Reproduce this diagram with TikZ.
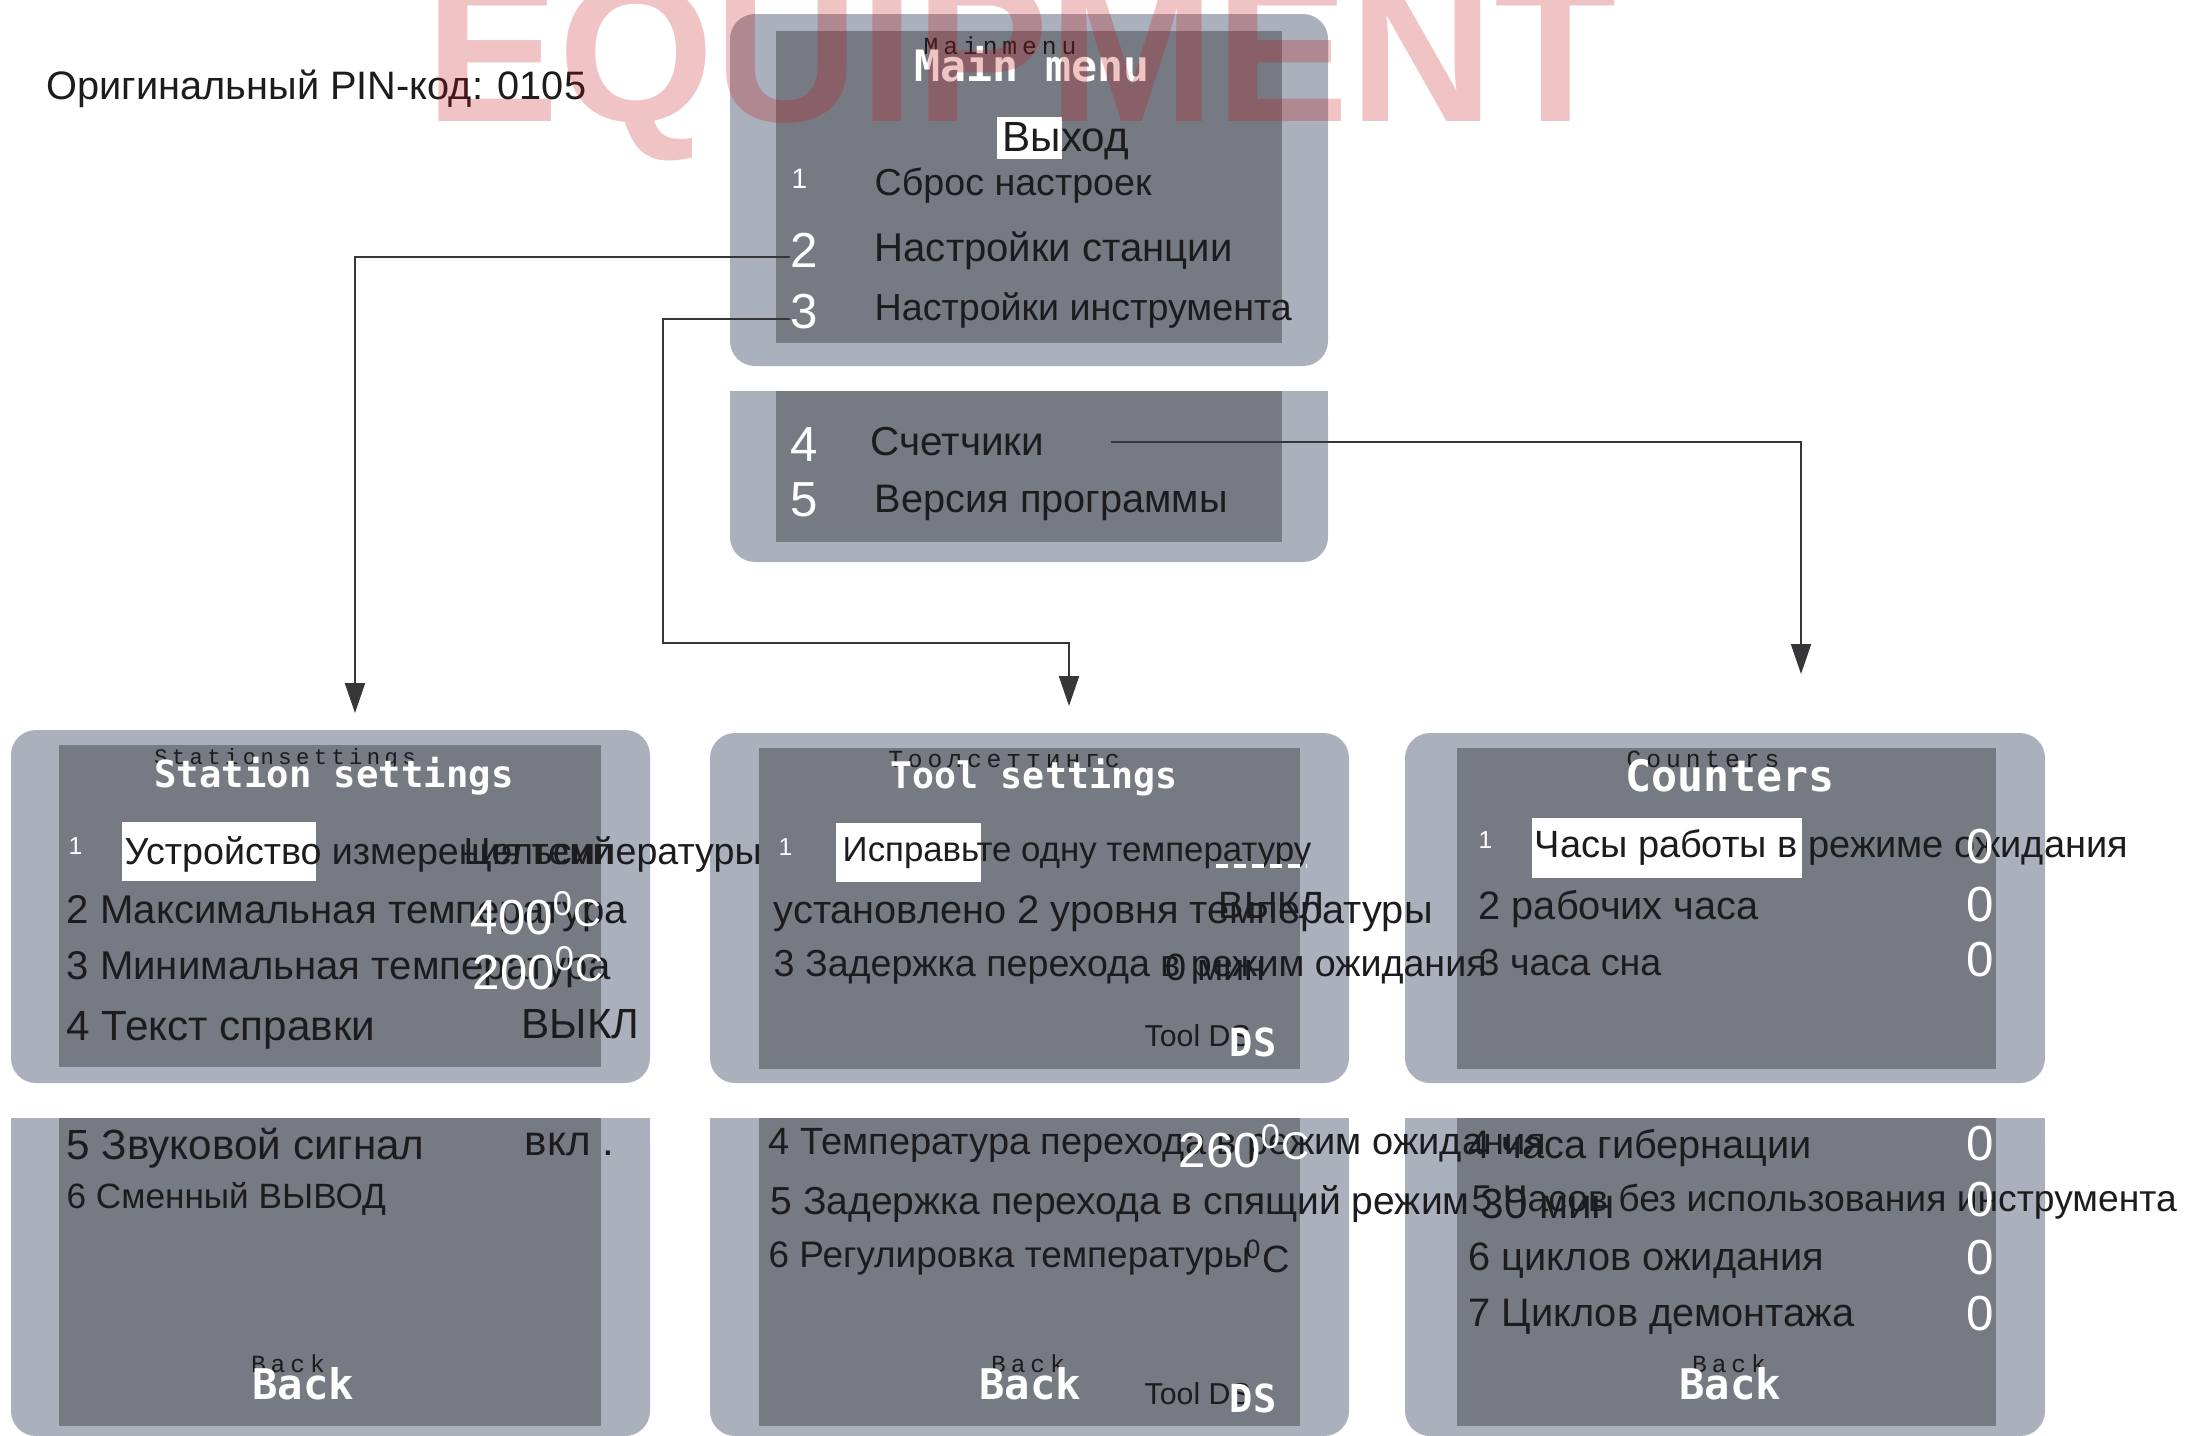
\documentclass[tikz,border=0pt]{standalone}
\usepackage{fontspec}
\setmainfont{Liberation Sans}
\newfontfamily\pixfont{DejaVu Sans Mono}
\newfontfamily\tagfont[LetterSpace=20]{Liberation Mono}
\usetikzlibrary{arrows.meta,positioning}

\definecolor{frame}{RGB}{170,176,188}
\definecolor{screen}{RGB}{118,122,131}
\definecolor{ink}{RGB}{28,28,30}
\definecolor{wire}{RGB}{55,55,58}
\definecolor{stamp}{RGB}{195,20,20}

\newcommand{\degC}{\textsuperscript{0}\raisebox{0.3ex}{\fontsize{11}{11}\selectfont C}}

\begin{document}
\begin{tikzpicture}[x=0.01cm, y=-0.01cm,
    frame/.style = {fill=frame, rounded corners=0.25cm},
    screen/.style = {fill=screen},
    hl/.style = {fill=white},
    txt/.style = {font=\fontsize{#1}{#1}\selectfont, text=ink, anchor=west, inner sep=0, yshift=-0.04cm},
    txt/.default = 12,
    num/.style = {font=\fontsize{#1}{#1}\selectfont, text=white, anchor=west, inner sep=0},
    num/.default = 14,
    pix/.style = {font=\pixfont\bfseries\fontsize{#1}{#1}\selectfont, text=white, inner sep=0},
    tag/.style = {font=\tagfont\fontsize{#1}{#1}\selectfont, text=ink, inner sep=0},
    tag/.default = 7,
    link/.style = {draw=wire, line width=0.6pt, -{Triangle[length=0.3cm, width=0.2cm]}}]
  \useasboundingbox (0,0) rectangle (2192,1435);

  % panels
  \fill[frame] (730,14) rectangle (1328,366);
  \fill[screen] (776,31) rectangle (1282,343);
  \fill[frame] (730,391) rectangle (1328,562);
  \fill[frame, sharp corners] (730,391) rectangle (1328,450);
  \fill[screen] (776,391) rectangle (1282,542);

  \fill[frame] (11,730) rectangle (650,1083);
  \fill[screen] (59,745) rectangle (601,1067);
  \fill[frame] (11,1118) rectangle (650,1436);
  \fill[frame, sharp corners] (11,1118) rectangle (650,1200);
  \fill[screen] (59,1118) rectangle (601,1426);

  \fill[frame] (710,733) rectangle (1349,1083);
  \fill[screen] (759,748) rectangle (1300,1069);
  \fill[frame] (710,1118) rectangle (1349,1436);
  \fill[frame, sharp corners] (710,1118) rectangle (1349,1200);
  \fill[screen] (759,1118) rectangle (1300,1426);

  \fill[frame] (1405,733) rectangle (2045,1083);
  \fill[screen] (1457,748) rectangle (1996,1069);
  \fill[frame] (1405,1118) rectangle (2045,1436);
  \fill[frame, sharp corners] (1405,1118) rectangle (2045,1200);
  \fill[screen] (1457,1118) rectangle (1996,1426);

  % highlights
  \fill[hl] (997,117) rectangle (1062,159);
  \fill[hl] (122,822) rectangle (316,881);
  \fill[hl] (836,823) rectangle (981,882);
  \fill[hl] (1532,818) rectangle (1802,878);

  \node[txt=11.3] (pin) at (46,85) {Оригинальный PIN-код: 0105};

  % main menu
  \node[tag] (mmtag) at (1000,46) {Mainmenu};
  \node[pix=12.3] (mmtitle) at (1032,64) {Main menu};
  \node[txt] (exit) at (1002,137) {Выход};
  \node[num=8] (n1) at (791,179) {1};
  \node[txt=10.7] (reset) at (874,182) {Сброс настроек};
  \node[num] (n2) at (790,250) {2};
  \node[txt=11.4] (station) at (874,247) {Настройки станции};
  \node[num] (n3) at (790,312) {3};
  \node[txt=10.7] (tools) at (874,306) {Настройки инструмента};
  \node[num] (n4) at (790,445) {4};
  \node[txt=11.5] (counters) at (870,438) {Счетчики};
  \node[num] (n5) at (790,500) {5};
  \node[txt=11.3] (version) at (874,499) {Версия программы};

  % station settings
  \node[tag=6.3] (sttag) at (285,759) {Stationsettings};
  \node[pix=10.6] (sttitle) at (334,776) {Station settings};
  \node[num=7] (s1) at (68,846) {1};
  \node[txt=10.7] (s1t) at (124,850) {Устройство измерения температуры};
  \node[txt=10.7] (s1v) at (463,850) {Цельсий};
  \node[txt=11.4] (s2t) at (66,910) {2 Максимальная температура};
  \node[num] (s2v) at (470,913) {400\degC};
  \node[txt=11.4] (s3t) at (66,966) {3 Минимальная температура};
  \node[num] (s3v) at (472,968) {200\degC};
  \node[txt] (s4t) at (66,1026) {4 Текст справки};
  \node[txt] (s4v) at (521,1020) {ВЫКЛ};
  \node[txt] (s5t) at (66,1144) {5 Звуковой сигнал};
  \node[txt] (s5v) at (524,1141) {вкл .};
  \node[txt=10] (s6t) at (66,1195) {6 Сменный ВЫВОД};
  \node[tag] (stback) at (288,1364) {Back};
  \node[pix=12] (stbackpix) at (303,1384) {Back};

  % tool settings
  \node[tag] (tltag) at (1004,759) {Тоолсеттингс};
  \node[pix=10.4] (tltitle) at (1034,777) {Tool settings};
  \node[num=7] (t1) at (778,847) {1};
  \node[txt=9.9] (t1t) at (842,849) {Исправьте одну температуру};
  \draw[white, line width=1pt, dash pattern=on 0.12cm off 0.06cm] (1216,866) -- (1307,866);
  \node[txt=11.3] (t2t) at (773,910) {установлено 2 уровня температуры};
  \node[txt=10.8] (t2v) at (1218,902) {ВЫКЛ};
  \node[txt=10.7] (t3t) at (773,963) {3 Задержка перехода в режим ожидания};
  \node[txt=10.8] (t3v) at (1165,963) {0 мин};
  \node[txt=8.6] (tlds) at (1144,1032) {Tool DS};
  \node[pix=11] (tldspix) at (1253,1042) {DS};
  \node[txt=10.8] (t4t) at (768,1141) {4 Температура перехода в режим ожидания};
  \node[num] (t4v) at (1178,1146) {260\degC};
  \node[txt=11.1] (t5t) at (770,1200) {5 Задержка перехода в спящий режим};
  \node[txt] (t5v) at (1480,1200) {30 мин};
  \node[txt=10.5] (t6t) at (768,1254) {6 Регулировка температуры};
  \node[txt=10.8] (t6v) at (1245,1252) {\textsuperscript{0}C};
  \node[tag] (tlback) at (1028,1364) {Back};
  \node[pix=12] (tlbackpix) at (1030,1384) {Back};
  \node[txt=8.6] (tlds2) at (1144,1390) {Tool DS};
  \node[pix=11] (tlds2pix) at (1253,1398) {DS};

  % counters
  \node[tag] (cttag) at (1703,759) {Counters};
  \node[pix=12.3] (cttitle) at (1730,776) {Counters};
  \node[num=7] (c1) at (1478,840) {1};
  \node[txt=10.8] (c1t) at (1534,843) {Часы работы в режиме ожидания};
  \node[num] (c1v) at (1966,847) {0};
  \node[txt=11.3] (c2t) at (1478,905) {2 рабочих часа};
  \node[num] (c2v) at (1966,905) {0};
  \node[txt=10.7] (c3t) at (1478,959) {3 часа сна};
  \node[num] (c3v) at (1966,960) {0};
  \node[txt=11.3] (c4t) at (1468,1144) {4 часа гибернации};
  \node[num] (c4v) at (1966,1144) {0};
  \node[txt=10.6] (c5t) at (1471,1198) {5 Часов без использования инструмента};
  \node[num] (c5v) at (1966,1200) {0};
  \node[txt=11.3] (c6t) at (1468,1257) {6 циклов ожидания};
  \node[num] (c6v) at (1966,1258) {0};
  \node[txt=11.3] (c7t) at (1468,1313) {7 Циклов демонтажа};
  \node[num] (c7v) at (1966,1314) {0};
  \node[tag] (ctback) at (1729,1364) {Back};
  \node[pix=12] (ctbackpix) at (1730,1384) {Back};

  % connectors
  \coordinate (stationIn) at (355,713);
  \coordinate (toolBend) at (663,643);
  \coordinate (toolIn) at (1069,706);
  \coordinate (countersIn) at (1801,674);
  \draw[link] ([yshift=-0.07cm]n2.west) -| (stationIn);
  \draw[link] ([yshift=-0.07cm]n3.west) -| (toolBend) -| (toolIn);
  \draw[link, shorten <=0.66cm] (counters.east) -| (countersIn);

  % watermark
  \node[font=\bfseries\fontsize{57}{57}\selectfont, text=stamp, text opacity=0.25,
        anchor=base, inner sep=0] (stampmark) at (1021,121) {EQUIPMENT};
\end{tikzpicture}
\end{document}
